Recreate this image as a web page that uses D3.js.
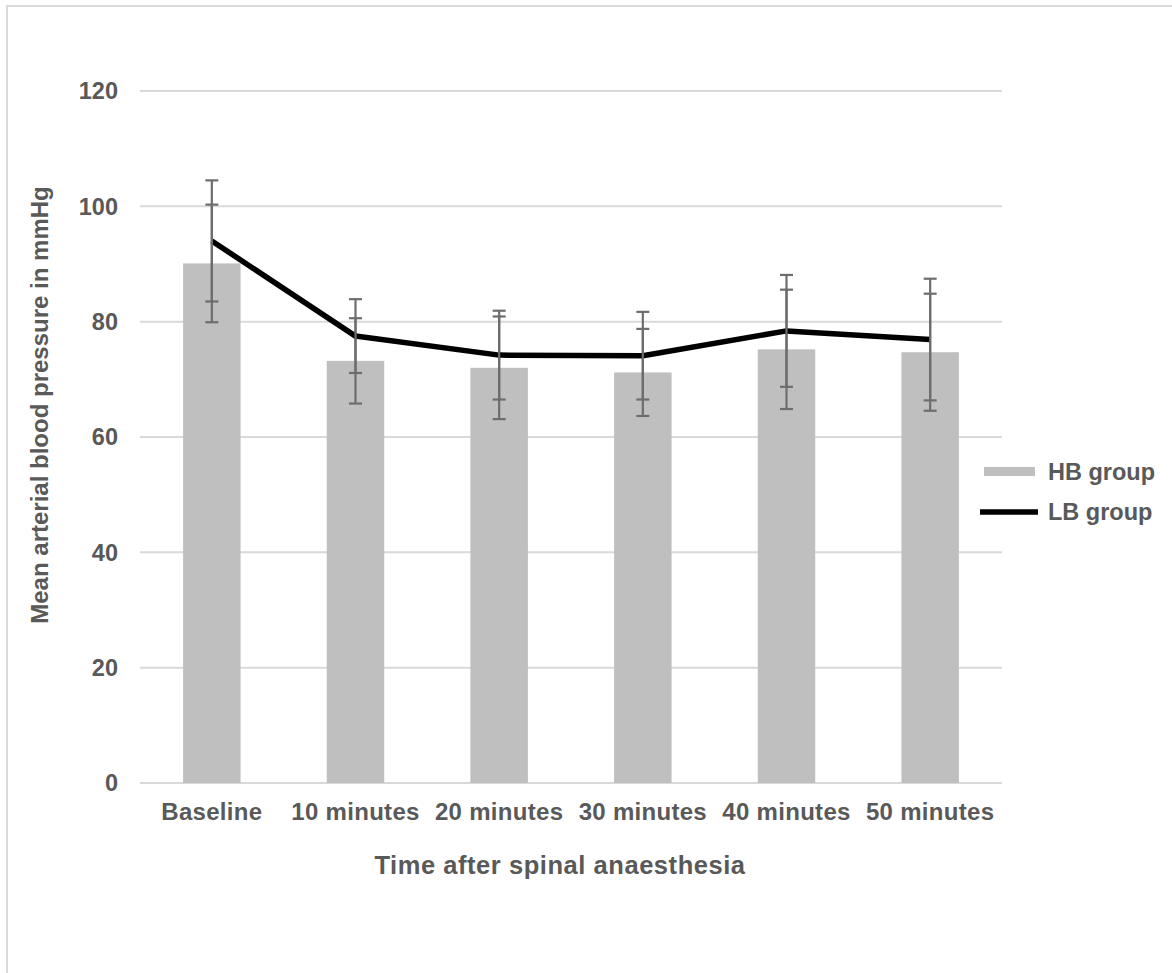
<!DOCTYPE html>
<html>
<head>
<meta charset="utf-8">
<script src="https://cdn.jsdelivr.net/npm/d3@7"></script>
<style>
  html, body { margin: 0; padding: 0; background: #fff; }
  svg text { font-family: "Liberation Sans", Arial, sans-serif; font-weight: bold; fill: #595959; }
</style>
</head>
<body>
<svg id="chart" width="1172" height="973"></svg>
<script>
// ---- data ----
const categories = ["Baseline", "10 minutes", "20 minutes", "30 minutes", "40 minutes", "50 minutes"];
const hbMean = [90.1, 73.2, 72.0, 71.2, 75.2, 74.7];
const hbErr  = [10.2, 7.4, 8.9, 7.55, 10.35, 10.15];
const lbMean = [94.0, 77.5, 74.2, 74.1, 78.4, 76.9];
const lbErr  = [10.5, 6.4, 7.7, 7.6, 9.7, 10.55];
const yTicks = [0, 20, 40, 60, 80, 100, 120];
const seriesNames = ["HB group", "LB group"];

const svg = d3.select("#chart");

// border (top & left visible)
svg.append("rect").attr("x", 7).attr("y", 6).attr("width", 1300).attr("height", 1100)
  .attr("fill", "none").attr("stroke", "#d9d9d9").attr("stroke-width", 2);

const x = d3.scaleBand().domain(categories).range([140, 1002]).paddingInner(0.6).paddingOuter(0.3);
const y = d3.scaleLinear().domain([0, 120]).range([783, 91]);
const cx = c => x(c) + x.bandwidth() / 2;

// gridlines
svg.append("g").selectAll("line").data(yTicks).join("line")
  .attr("x1", 140).attr("x2", 1002)
  .attr("y1", d => y(d)).attr("y2", d => y(d))
  .attr("stroke", "#d9d9d9").attr("stroke-width", 2);

// y tick labels
svg.append("g").selectAll("text").data(yTicks).join("text")
  .attr("x", 118).attr("y", d => y(d)).attr("dy", "0.35em")
  .attr("text-anchor", "end").attr("font-size", 23.5)
  .text(d => d);

// x tick labels
svg.append("g").selectAll("text").data(categories).join("text")
  .attr("x", d => cx(d)).attr("y", 812).attr("dy", "0.35em")
  .attr("text-anchor", "middle").attr("font-size", 24).attr("letter-spacing", 0.3)
  .text(d => d);

// bars
svg.append("g").selectAll("rect").data(categories).join("rect")
  .attr("x", d => x(d)).attr("width", x.bandwidth())
  .attr("y", (d, i) => y(hbMean[i])).attr("height", (d, i) => y(0) - y(hbMean[i]))
  .attr("fill", "#bfbfbf");

function errorBars(means, errs) {
  const g = svg.append("g").attr("stroke", "#6d6d6d").attr("stroke-width", 2.2);
  categories.forEach((c, i) => {
    const xc = cx(c), hi = y(means[i] + errs[i]), lo = y(means[i] - errs[i]);
    g.append("line").attr("x1", xc).attr("x2", xc).attr("y1", hi).attr("y2", lo);
    g.append("line").attr("x1", xc - 6.5).attr("x2", xc + 6.5).attr("y1", hi).attr("y2", hi);
    g.append("line").attr("x1", xc - 6.5).attr("x2", xc + 6.5).attr("y1", lo).attr("y2", lo);
  });
}
errorBars(hbMean, hbErr);

// line
const line = d3.line().x((d, i) => cx(categories[i])).y(d => y(d));
svg.append("path").datum(lbMean).attr("d", line)
  .attr("fill", "none").attr("stroke", "#000").attr("stroke-width", 5.5)
  .attr("stroke-linejoin", "round");

errorBars(lbMean, lbErr);

// axis titles
svg.append("text").attr("x", 560).attr("y", 865).attr("dy", "0.35em")
  .attr("text-anchor", "middle").attr("font-size", 25.5).attr("letter-spacing", 0.55)
  .text("Time after spinal anaesthesia");
svg.append("text").attr("transform", "translate(40,405) rotate(-90)").attr("dy", "0.35em")
  .attr("text-anchor", "middle").attr("font-size", 24)
  .text("Mean arterial blood pressure in mmHg");

// legend
const lg = svg.append("g");
lg.append("rect").attr("x", 984).attr("y", 467).attr("width", 51).attr("height", 9).attr("fill", "#bfbfbf");
lg.append("text").attr("x", 1048).attr("y", 472).attr("dy", "0.35em").attr("font-size", 23.5).text(seriesNames[0]);
lg.append("line").attr("x1", 980).attr("x2", 1038).attr("y1", 512).attr("y2", 512)
  .attr("stroke", "#000").attr("stroke-width", 5.5);
lg.append("text").attr("x", 1048).attr("y", 512).attr("dy", "0.35em").attr("font-size", 23.5).text(seriesNames[1]);
</script>
</body>
</html>
